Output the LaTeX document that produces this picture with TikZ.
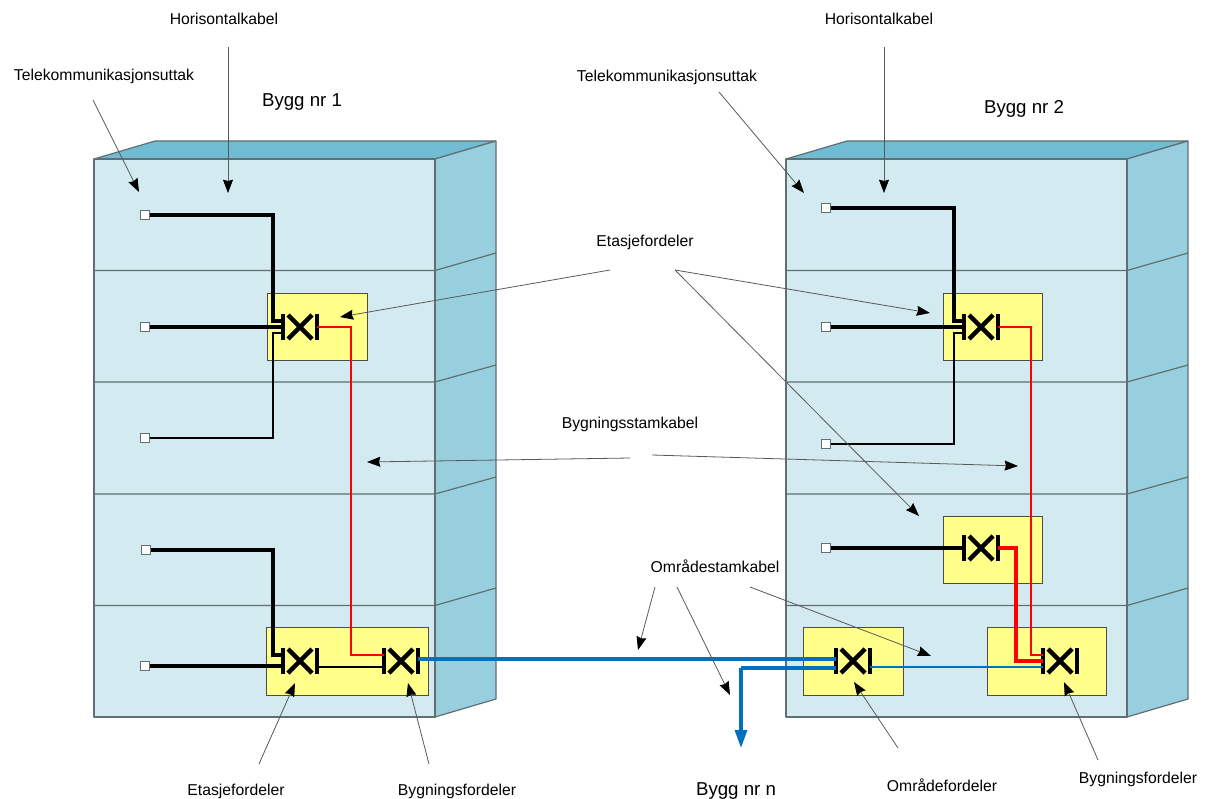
\documentclass[tikz,border=0pt]{standalone}
\usepackage{fontspec}
\setmainfont{Liberation Sans}
\usetikzlibrary{arrows.meta}
\definecolor{frontc}{HTML}{D2EAF0}
\definecolor{sidec}{HTML}{98CFDE}
\definecolor{topc}{HTML}{70BDD3}
\definecolor{edgec}{HTML}{5F6F72}
\definecolor{yell}{HTML}{FFFF8A}
\definecolor{blu}{HTML}{0070C0}
\tikzset{
  x=0.75pt,y=-0.75pt,
  lab/.style={font=\fontsize{11.8}{14}\selectfont,text=black,inner sep=0pt},
  biglab/.style={font=\fontsize{14}{16}\selectfont,text=black,inner sep=0pt},
  bedge/.style={draw=edgec,line width=0.9pt,line join=bevel},
  yellowbox/.style={draw=black!70,fill=yell,line width=0.7pt},
  term/.style={draw=edgec,fill=white,line width=0.7pt,minimum size=6.4pt,inner sep=0pt,shape=rectangle},
  leader/.style={draw=black!65,line width=0.6pt,-{Stealth[length=10pt,width=7.5pt,inset=1pt,color=black,fill=black]}},
  wire/.style={draw=black,line width=2.3pt},
  wirethin/.style={draw=black,line width=2.1pt},
  redw/.style={draw=red,line width=2.15pt},
  bluw/.style={draw=blu,line width=2.4pt},
  xconn/.pic={
    \draw[black,line width=3.6pt] (-17,-13) -- (-17,13);
    \draw[black,line width=3.6pt] (17,-13) -- (17,13);
    \draw[black,line width=3.2pt] (-12,-12) -- (12,12);
    \draw[black,line width=3.2pt] (-12,12) -- (12,-12);
    \coordinate (-lu) at (-17,-6);
    \coordinate (-lm) at (-17,0);
    \coordinate (-ld) at (-17,6);
    \coordinate (-r) at (17,0);
    \coordinate (-rd) at (17,6);
    \coordinate (-bu) at (-27,-6);
    \coordinate (-bd) at (-27,6);
  }
}
\newcommand{\bldg}[1]{%
  \begin{scope}[shift={(#1,0)}]
    \filldraw[fill=topc,bedge] (94,159) -- (155,141) -- (496,141) -- (435,159) -- cycle;
    \filldraw[fill=sidec,bedge] (435,159) -- (496,141) -- (496,699) -- (435,717) -- cycle;
    \filldraw[fill=frontc,bedge] (94,159) rectangle (435,717);
    \draw[bedge] (94,270.5) -- (435,270.5) -- (496,253);
    \draw[bedge] (94,382) -- (435,382) -- (496,365);
    \draw[bedge] (94,494) -- (435,494) -- (496,477);
    \draw[bedge] (94,605.5) -- (435,605.5) -- (496,588);
  \end{scope}}
\newcommand{\leadline}[3]{%
  \coordinate (#1s) at (#2);
  \coordinate (#1e) at (#3);
  \draw[leader] (#1s) -- (#1e);}
\begin{document}
\begin{tikzpicture}
\useasboundingbox (0,0) rectangle (1208,799);
\bldg{0}
\bldg{692}
% yellow boxes
\draw[yellowbox] (267,293) rectangle (367,360);
\draw[yellowbox] (266,627) rectangle (428,695);
\draw[yellowbox] (943,293) rectangle (1042,360);
\draw[yellowbox] (943,516) rectangle (1042,583);
\draw[yellowbox] (803,627) rectangle (903,695);
\draw[yellowbox] (987,627) rectangle (1106,695);
% connectors
\pic (s1) at (300,327) {xconn};
\pic (s2) at (300,661) {xconn};
\pic (s3) at (401,661) {xconn};
\pic (s4) at (981,327) {xconn};
\pic (s5) at (981,548) {xconn};
\pic (s6) at (853,661) {xconn};
\pic (s7) at (1060,661) {xconn};
% outlets
\node[term] (t1) at (145,215) {};
\node[term] (t2) at (145,327) {};
\node[term] (t3) at (145,438) {};
\node[term] (t4) at (146,550) {};
\node[term] (t5) at (145,666) {};
\node[term] (t6) at (826,208) {};
\node[term] (t7) at (826,327) {};
\node[term] (t8) at (826,444) {};
\node[term] (t9) at (826,548) {};
% black wires
\draw[wire] (t1.east) -| (s1-bu) -- (s1-lu);
\draw[wire] (t2.east) -- (s1-lm);
\draw[wirethin] (t3.east) -| (s1-bd) -- (s1-ld);
\draw[wire] (t4.east) -| (s2-bu) -- (s2-lu);
\draw[wire] (t5.east) -- (s2-ld |- t5.east);
\draw[wirethin] (s2-rd) -- (s3-ld);
\draw[wire] (t6.east) -| (s4-bu) -- (s4-lu);
\draw[wire] (t7.east) -- (s4-lm);
\draw[wirethin] (t8.east) -| (s4-bd) -- (s4-ld);
\draw[wire] (t9.east) -- (s5-lm);
% red wires
\coordinate (r1) at (351,655);
\coordinate (r2) at (1031,655);
\coordinate (r3) at (1016,661);
\draw[redw] (s1-r) -| (r1) -- (s3-lu);
\draw[redw] (s4-r) -| (r2) -- (s7-lu);
\draw[redw,line width=2.3pt] (s5-r) -| (r3) -- (s7-lu |- r3);
% blue wires
\coordinate (b0) at (418,659);
\coordinate (b1) at (741,668);
\coordinate (b2) at (741,748);
\draw[bluw] (b0) -- (s6-lm |- b0);
\draw[bluw] (s6-ld |- b1) -- (b1);
\draw[bluw,-{Stealth[length=13.5pt,width=9pt,inset=0pt,color=blu,fill=blu]}] (b1) -- (b2);
\draw[bluw,line width=2.1pt] (s6-rd) -- (s7-ld);
% labels
\node[lab] (n1) at (224,19) {Horisontalkabel};
\node[lab] (n2) at (104,76) {Telekommunikasjonsuttak};
\node[biglab] (n3) at (302,102) {Bygg nr 1};
\node[lab] (n4) at (879,19) {Horisontalkabel};
\node[lab] (n5) at (667,77) {Telekommunikasjonsuttak};
\node[biglab] (n6) at (1024,109) {Bygg nr 2};
\node[lab] (n7) at (645,242) {Etasjefordeler};
\node[lab] (n8) at (630,424) {Bygningsstamkabel};
\node[lab] (n9) at (715,566) {Områdestamkabel};
\node[lab] (n10) at (236,791) {Etasjefordeler};
\node[lab] (n11) at (457,791) {Bygningsfordeler};
\node[biglab] (n12) at (736,791) {Bygg nr n};
\node[lab] (n13) at (942,785) {Områdefordeler};
\node[lab] (n14) at (1138,779) {Bygningsfordeler};
% leaders
\leadline{a1}{228,47}{228,193}
\leadline{a2}{93,100}{139,192}
\leadline{a3}{884,47}{884,193}
\leadline{a4}{719,92}{804,193}
\leadline{a5}{610,270}{340,317}
\leadline{a6}{675,270}{930,313}
\leadline{a7}{675,270}{919,516}
\leadline{a8}{630,458}{367,462}
\leadline{a9}{652,455}{1018,466}
\leadline{a10}{655,587}{638,650}
\leadline{a11}{677,587}{730,695}
\leadline{a12}{750,587}{931,656}
\leadline{a13}{259,764}{295,683}
\leadline{a14}{429,764}{408,683}
\leadline{a15}{898,748}{854,682}
\leadline{a16}{1098,760}{1064,682}
\end{tikzpicture}
\end{document}
